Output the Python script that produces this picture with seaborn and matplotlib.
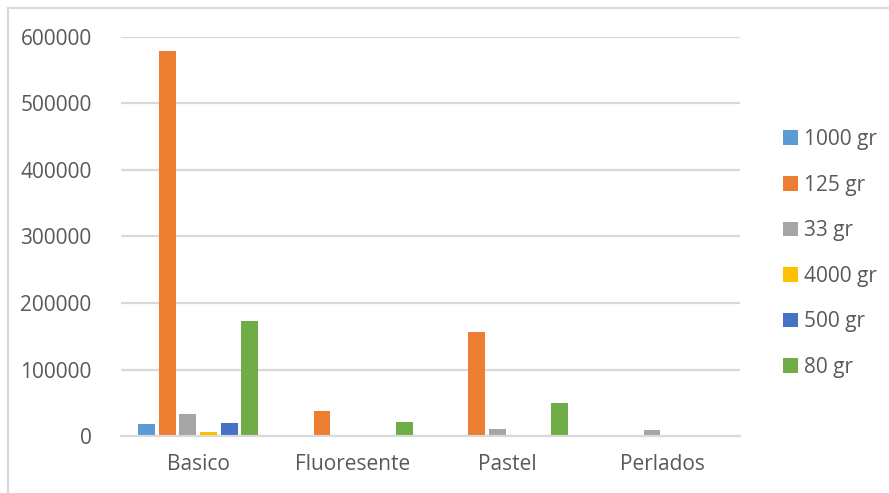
import matplotlib
matplotlib.use("Agg")
import matplotlib.pyplot as plt
from matplotlib.patches import Patch, Rectangle
import numpy as np
import pandas as pd
import seaborn as sns

# data
categorias = ["Basico", "Fluoresente", "Pastel", "Perlados"]
series = ["1000 gr", "125 gr", "33 gr", "4000 gr", "500 gr", "80 gr"]
v_1000 = [18500, 0, 0, 0]
v_125 = [579000, 37000, 156000, 0]
v_33 = [33000, 2000, 10500, 8500]
v_4000 = [6000, 0, 0, 0]
v_500 = [20000, 0, 0, 0]
v_80 = [173000, 21500, 49000, 0]
colores = ["#5B9BD5", "#ED7D31", "#A5A5A5", "#FFC000", "#4472C4", "#70AD47"]
yticks = [0, 100000, 200000, 300000, 400000, 500000, 600000]

valores = [v_1000, v_125, v_33, v_4000, v_500, v_80]
rows = []
for s, vals in zip(series, valores):
    for c, v in zip(categorias, vals):
        rows.append({"categoria": c, "serie": s, "valor": v})
df = pd.DataFrame(rows)

sns.set_style("white")
plt.rcParams["font.family"] = ["Open Sans", "DejaVu Sans"]
txt = "#595959"
grid = "#D9D9D9"

fig = plt.figure(figsize=(8.89, 4.93), dpi=100)
ax = fig.add_axes([0.136, 0.1156, 0.696, 0.8094])

sns.barplot(data=df, x="categoria", y="valor", hue="serie",
            order=categorias, hue_order=series, palette=colores,
            saturation=1, width=0.8, gap=0.18, linewidth=0,
            legend=False, ax=ax)

ax.set_ylim(0, 600000)
ax.set_xlim(-0.5, 3.5)
ax.set_yticks(yticks)
ax.set_yticklabels([str(t) for t in yticks])
ax.yaxis.grid(True, color=grid, linewidth=1.6)
ax.set_axisbelow(True)
for side in ["top", "right", "left"]:
    ax.spines[side].set_visible(False)
ax.spines["bottom"].set_color(grid)
ax.spines["bottom"].set_linewidth(1.6)
ax.tick_params(axis="both", length=0, labelsize=15, colors=txt)
ax.tick_params(axis="y", pad=21)
ax.tick_params(axis="x", pad=13)
ax.set_xlabel("")
ax.set_ylabel("")

handles = [Patch(facecolor=c, edgecolor="none") for c in colores]
fig.legend(handles, series, loc="center left", bbox_to_anchor=(0.86, 0.486),
           frameon=False, fontsize=15, labelcolor=txt, handlelength=0.7,
           handleheight=0.7, handletextpad=0.3, labelspacing=1.18)

# outer chart border (cropped at right and bottom)
fig.patches.append(Rectangle((8 / 889, -0.1), 1.2, 1 - 8 / 493 + 0.1,
                             transform=fig.transFigure, fill=False,
                             edgecolor=grid, linewidth=1.5))

fig.savefig("out.png", dpi=100)
